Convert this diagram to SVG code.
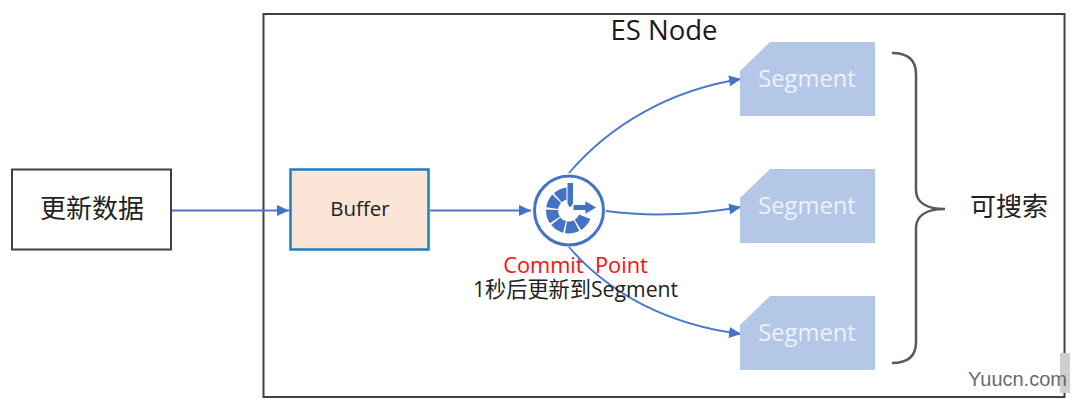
<svg xmlns="http://www.w3.org/2000/svg" width="1080" height="409" viewBox="0 0 1080 409">
<style>
text{font-family:"Open Sans","Noto Sans CJK SC",sans-serif;text-anchor:middle}
.cjk{font-family:"Noto Sans CJK SC",sans-serif}
.conn{fill:none;stroke:#4a78cf;stroke-width:1.9}
.seg{fill:#b4c7e7}
.segt{fill:#edf2fa;font-size:23.700px}
.ic{fill:#4472c4;stroke:#fff;stroke-width:1}
</style>
<defs>
<marker id="a" markerUnits="userSpaceOnUse" markerWidth="14" markerHeight="14" refX="12" refY="7" orient="auto"><path d="M0 1.500L12 7L0 12.500Z" fill="#4472c4"/></marker>
</defs>
<rect width="1080" height="409" fill="#fff"/>
<g id="es-node"><rect x="263.500" y="14" width="801" height="383" fill="#fff" stroke="#404040" stroke-width="2"/>
<text x="664" y="40" font-size="27.500" fill="#1a1a1a">ES Node</text></g>
<g id="connectors">
<path class="conn" d="M172 210.500H289" marker-end="url(#a)"/>
<path class="conn" d="M430 210.500H531" marker-end="url(#a)"/>
<path class="conn" d="M569 173C610 125 670 90 741 79" marker-end="url(#a)"/>
<path class="conn" d="M606 211C650 217 695 215 741 207" marker-end="url(#a)"/>
<path class="conn" d="M569 247C610 295 670 325 741 334" marker-end="url(#a)"/>
</g>
<g id="update-data"><rect x="12" y="169.500" width="159" height="80" fill="#fff" stroke="#404040" stroke-width="2"/>
<text class="cjk" x="92" y="218" font-size="26" fill="#222">更新数据</text></g>
<g id="buffer"><rect x="290.500" y="169.500" width="138" height="80" fill="#fbe5d6" stroke="#1f7fc4" stroke-width="2.500"/>
<text x="360" y="216" font-size="20.500" fill="#222">Buffer</text></g>
<g id="commit-point">
<circle cx="569" cy="210.500" r="34.500" fill="#fff" stroke="#4472c4" stroke-width="3"/>
<circle cx="569" cy="210.500" r="17" fill="none" stroke="#4472c4" stroke-width="12" stroke-dasharray="10.700 1.500 10.700 1.500 10.700 1.500 10.700 1.500 10.700 1.500 10.700 40" transform="rotate(22 569 210.500)"/>
<path class="ic" d="M567 182.500H573.500V204L570 208L567 204Z"/>
<path class="ic" d="M573 204.500H585V200.500L597 207.500L585 214.500V210.500H573Z"/>
<text x="575.500" y="272.500" font-size="21.800" fill="#fb0d0d" xml:space="preserve">Commit  Point</text>
<text x="575.500" y="297" font-size="21.200" fill="#222">1<tspan class="cjk">秒后更新到</tspan>Segment</text>
</g>
<g id="segment-1"><path class="seg" d="M740 71L770 42H875V116H740Z"/><text class="segt" x="807" y="87">Segment</text></g>
<g id="segment-2"><path class="seg" d="M740 198L770 169H875V243H740Z"/><text class="segt" x="807" y="214">Segment</text></g>
<g id="segment-3"><path class="seg" d="M740 325L770 296H875V370H740Z"/><text class="segt" x="807" y="341">Segment</text></g>
<g id="brace"><path d="M892 53C908 53 916 60 916 74V190C916 202 926 209 945 209C926 209 916 216 916 228V342C916 356 908 363 892 363" fill="none" stroke="#595959" stroke-width="2.500"/></g>
<g id="searchable"><text class="cjk" x="1009" y="216" font-size="26" fill="#222">可搜索</text></g>
<g id="watermark"><rect x="1060" y="353" width="10" height="40" fill="#cfcfcf"/><text x="1017.500" y="386" font-size="20" fill="#6b6b6b" style="font-family:'Liberation Sans',sans-serif">Yuucn.com</text></g>
</svg>
